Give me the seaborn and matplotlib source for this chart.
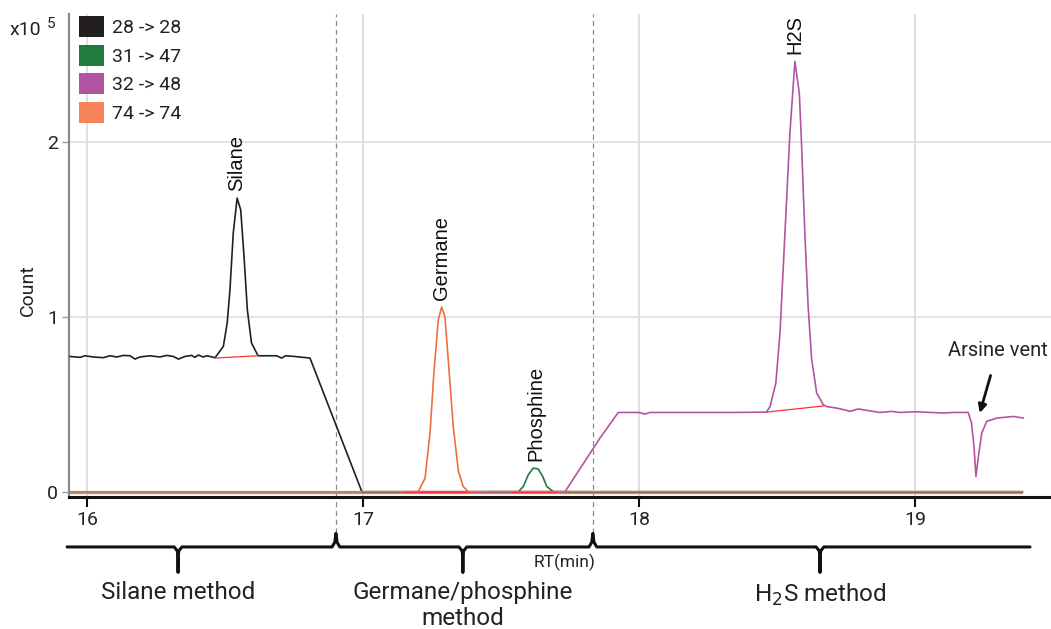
import numpy as np
import pandas as pd
import matplotlib as mpl
mpl.use('Agg')
import matplotlib.pyplot as plt
import matplotlib.transforms as mtransforms
from matplotlib.patches import Patch
import seaborn as sns

# chromatogram traces (RT in min, count in 1e5)
silane_rt = [15.938, 15.975, 15.993, 16.023, 16.059, 16.083, 16.108, 16.132,
             16.156, 16.174, 16.192, 16.228, 16.264, 16.289, 16.313, 16.331,
             16.355, 16.379, 16.391, 16.403, 16.421, 16.434, 16.464, 16.494,
             16.508, 16.518, 16.530, 16.544, 16.557, 16.569, 16.581, 16.596,
             16.620, 16.687, 16.705, 16.720, 16.745, 16.808, 16.996, 19.390]
silane_cnt = [0.773, 0.768, 0.777, 0.770, 0.766, 0.777, 0.770, 0.779,
              0.777, 0.758, 0.770, 0.777, 0.770, 0.779, 0.773, 0.758,
              0.773, 0.779, 0.768, 0.781, 0.770, 0.777, 0.766, 0.830,
              0.964, 1.154, 1.478, 1.678, 1.611, 1.345, 1.040, 0.850,
              0.777, 0.777, 0.764, 0.777, 0.774, 0.764, 0.000, 0.000]

phos_rt = [17.450, 17.563, 17.581, 17.599, 17.617, 17.635, 17.651, 17.666,
           17.690, 17.750]
phos_cnt = [0.000, 0.000, 0.030, 0.097, 0.135, 0.130, 0.088, 0.030,
            0.000, 0.000]

h2s_rt = [17.150, 17.732, 17.859, 17.925, 18.000, 18.022, 18.040, 18.200,
          18.350, 18.462, 18.475, 18.496, 18.511, 18.523, 18.535, 18.547,
          18.565, 18.581, 18.589, 18.601, 18.613, 18.626, 18.644, 18.668,
          18.680, 18.716, 18.752, 18.764, 18.794, 18.849, 18.873, 18.915,
          18.945, 19.000, 19.102, 19.139, 19.193, 19.205, 19.214, 19.221,
          19.230, 19.242, 19.260, 19.297, 19.357, 19.393]
h2s_cnt = [0.000, 0.000, 0.307, 0.453, 0.453, 0.444, 0.453, 0.453,
           0.453, 0.455, 0.487, 0.621, 0.907, 1.287, 1.669, 2.050,
           2.459, 2.278, 1.993, 1.478, 1.059, 0.754, 0.564, 0.497,
           0.487, 0.478, 0.465, 0.459, 0.473, 0.459, 0.453, 0.459,
           0.453, 0.457, 0.450, 0.453, 0.453, 0.392, 0.259, 0.087,
           0.202, 0.335, 0.402, 0.421, 0.430, 0.421]

germ_rt = [15.935, 17.200, 17.225, 17.243, 17.257, 17.273, 17.285, 17.297,
           17.309, 17.327, 17.346, 17.363, 17.382, 19.390]
germ_cnt = [0.000, 0.000, 0.078, 0.337, 0.680, 0.983, 1.055, 1.000,
            0.754, 0.373, 0.116, 0.030, 0.000, 0.000]

transitions = ['28 -> 28', '31 -> 47', '32 -> 48', '74 -> 74']
trans_colors = ['#231f20', '#217b3f', '#b155a3', '#ec6e42']
legend_colors = ['#231f20', '#217b3f', '#b155a3', '#f58357']

# integration baselines (start rt, start count, end rt, end count)
base_rt0 = [16.464, 17.152, 17.538, 18.462]
base_y0 = [0.764, 0.0, 0.0, 0.455]
base_rt1 = [16.620, 17.382, 17.700, 18.668]
base_y1 = [0.777, 0.0, 0.0, 0.490]

peak_names = ['Silane', 'Germane', 'Phosphine', 'H2S']
peak_rt = [16.544, 17.285, 17.626, 18.565]
peak_top = [1.678, 1.055, 0.135, 2.459]

method_edges = [16.902, 17.833]
method_names = ['Silane method', 'Germane/phosphine\nmethod', 'H$_2$S method']
method_centers = [16.33, 17.362, 18.656]
bracket_span = [15.928, 19.417]

sns.set_theme(style='white')
plt.rcParams['font.family'] = ['Roboto', 'DejaVu Sans']

df = pd.concat([
    pd.DataFrame({'rt': rt, 'count': cnt, 'transition': name})
    for rt, cnt, name in zip([silane_rt, phos_rt, h2s_rt, germ_rt],
                             [silane_cnt, phos_cnt, h2s_cnt, germ_cnt],
                             transitions)
], ignore_index=True)

fig = plt.figure(figsize=(10.51, 6.29), dpi=100)
ax = fig.add_axes([0.0657, 0.2099, 0.9343, 0.7678])

ax.hlines(-0.008, 15.935, 19.39, color='#9a9a9a', lw=1.6, zorder=1)

sns.lineplot(data=df, x='rt', y='count', hue='transition',
             hue_order=transitions, palette=trans_colors, estimator=None,
             sort=False, lw=1.2, legend=False, ax=ax, zorder=3)

# integration baselines
for x0, y0, x1, y1 in zip(base_rt0, base_y0, base_rt1, base_y1):
    ax.plot([x0, x1], [y0, y1], color='#ff3030', lw=0.9, zorder=4)

# peak labels
for name, x, y in zip(peak_names, peak_rt, peak_top):
    ax.text(x, y + 0.04, name, rotation=90, ha='center', va='bottom',
            fontsize=14.5, family='Liberation Sans', color='#111111')

ax.annotate('Arsine vent', xy=(19.235, 0.45), xytext=(19.30, 0.806),
            ha='center', va='center', fontsize=14.5, color='#222222',
            arrowprops=dict(arrowstyle='-|>', color='#111111', lw=2,
                            mutation_scale=12, shrinkA=9, shrinkB=0))

ax.set_xlim(15.935, 19.493)
ax.set_ylim(-0.03, 2.73)
ax.set_xticks([16, 17, 18, 19])
ax.set_yticks([0, 1, 2])
ax.set_xticklabels(['16', '17', '18', '19'])
ax.set_yticklabels(['0', '1', '2'])
ax.tick_params(axis='x', length=7, width=1.5, color='#111111', pad=3,
               labelsize=14, labelcolor='#222222', bottom=True)
ax.tick_params(axis='y', length=5, width=1, color='#999999', pad=3,
               labelsize=14, labelcolor='#222222', left=True)
ax.set_xlabel('')
ax.set_ylabel('')
for x in [16, 17, 18, 19]:
    ax.axvline(x, color='#dddddd', lw=1.3, zorder=0)
for y in [1, 2]:
    ax.axhline(y, color='#e2e2e2', lw=1.3, zorder=0)

for side in ['top', 'right']:
    ax.spines[side].set_visible(False)
ax.spines['left'].set_color('#8a8a8a')
ax.spines['left'].set_linewidth(1.6)
ax.spines['bottom'].set_color('#111111')
ax.spines['bottom'].set_linewidth(2.2)

trans = mtransforms.blended_transform_factory(ax.transData, ax.transAxes)

# method divisions
for xb in method_edges:
    ax.plot([xb, xb], [-0.075, 1.0], transform=trans, clip_on=False,
            color='#888888', lw=0.9, ls=(0, (4, 3)), zorder=2)

# bracket under the axis
y0 = -0.1035
d = 0.014
bx = [bracket_span[0]]
by = [y0]
marks = sorted([(c, 'down') for c in method_centers] +
               [(e, 'up') for e in method_edges])
for xm, kind in marks:
    if kind == 'down':
        bx += [xm - d, xm - 0.003, xm, xm, xm, xm + 0.003, xm + d]
        by += [y0, y0 - 0.008, y0 - 0.02, y0 - 0.052, y0 - 0.02,
               y0 - 0.008, y0]
    else:
        bx += [xm - d, xm - 0.004, xm, xm + 0.004, xm + d]
        by += [y0, y0 + 0.01, y0 + 0.028, y0 + 0.01, y0]
bx.append(bracket_span[1])
by.append(y0)
ax.plot(bx, by, transform=trans, clip_on=False, color='#111111', lw=2.2,
        solid_joinstyle='round')

for name, xc in zip(method_names, method_centers):
    ax.text(xc, -0.175, name, transform=trans, ha='center', va='top',
            fontsize=17.5, color='#222222', linespacing=1.15)

ax.text(17.73, -0.135, 'RT(min)', transform=trans, ha='center', va='center',
        fontsize=12.5, color='#222222')

fig.text(28 / 1051, 1 - 290 / 629, 'Count', rotation=90, ha='center',
         va='center', fontsize=14, color='#222222')
fig.text(10 / 1051, 1 - 30 / 629, 'x10', ha='left', va='center',
         fontsize=14, color='#222222')
fig.text(47 / 1051, 1 - 24 / 629, '5', ha='left', va='center',
         fontsize=11, color='#222222')

handles = [Patch(facecolor=c, edgecolor='none') for c in legend_colors]
fig.legend(handles, transitions, loc='upper left',
           bbox_to_anchor=(79 / 1051, 1 - 16 / 629), frameon=False,
           fontsize=14, handlelength=1.3, handleheight=1.3,
           handletextpad=0.38, labelspacing=0.38, borderpad=0,
           borderaxespad=0, labelcolor='#222222')

fig.savefig('out.png', dpi=100)
plt.close(fig)
